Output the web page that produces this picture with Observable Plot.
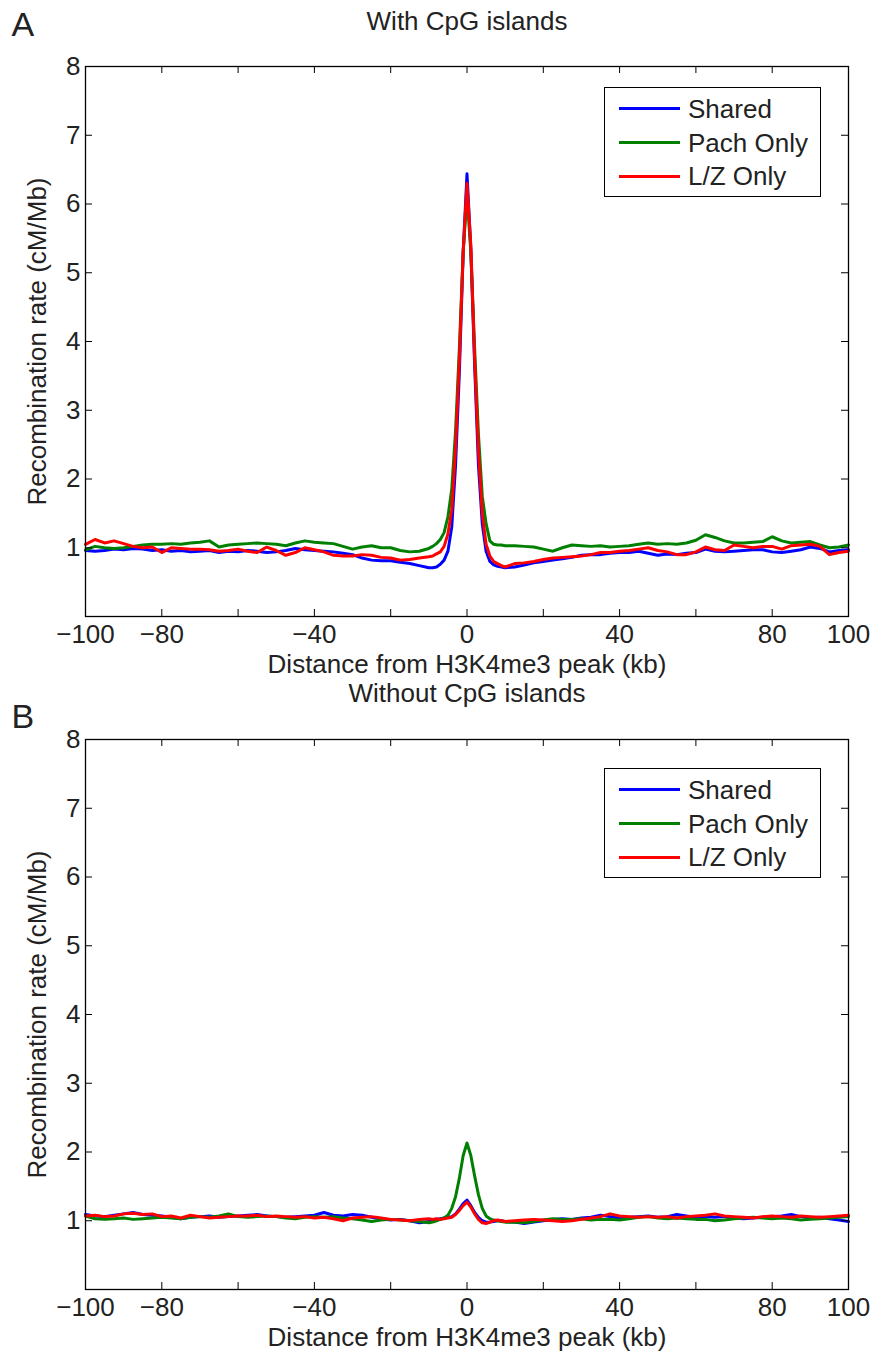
<!DOCTYPE html>
<html>
<head>
<meta charset="utf-8">
<script src="https://cdn.jsdelivr.net/npm/d3@7"></script>
<script src="https://cdn.jsdelivr.net/npm/@observablehq/plot@0.6"></script>
<style>
  body { margin: 0; background: #fff; font-family: "Liberation Sans", Arial, Helvetica, sans-serif; }
  .panel { position: relative; width: 878px; }
  .panel svg { overflow: visible; display: block; }
  .legend { position: absolute; left: 604px; width: 217px; height: 110px; box-sizing: border-box;
            border: 1.5px solid #000; background: #fff; padding-top: 4px; }
  .row { height: 33.7px; display: flex; align-items: center; }
  .sw { width: 61px; height: 3.2px; margin-left: 14px; margin-right: 8px; }
  .lab { font-size: 26px; color: #222; line-height: 1; }
</style>
</head>
<body>
<div id="root"></div>
<script>
// ---------- data ----------
const seriesNames = ["Shared", "Pach Only", "L/Z Only"];
const seriesColors = ["#0000ff", "#008000", "#ff0000"];

// distance from H3K4me3 peak (kb)
const distance = [].concat(
  d3.range(-100, -9.9, 2.5),
  d3.range(-9, 9.1, 1),
  d3.range(10, 100.1, 2.5)
);

// Panel A: with CpG islands
const sharedA = [
  0.96,0.95,0.96,0.98,0.97,0.99,0.98,0.96,0.97,0.95,0.96,0.94,0.95,0.96,0.93,0.95,0.94,0.96,0.95,0.93,
  0.94,0.96,0.99,0.97,0.96,0.95,0.94,0.92,0.90,0.85,0.82,0.81,0.81,0.79,0.77,0.74,0.71,
  0.71,0.72,0.76,0.82,0.95,1.30,2.20,3.55,5.30,6.44,5.35,3.65,2.20,1.35,0.95,0.80,0.75,0.73,0.72,
  0.71,0.72,0.75,0.78,0.80,0.82,0.84,0.86,0.89,0.90,0.90,0.92,0.93,0.93,0.95,0.92,0.89,0.91,0.90,
  0.92,0.93,0.98,0.95,0.94,0.95,0.96,0.97,0.97,0.94,0.93,0.95,0.97,1.01,0.99,0.94,0.96,0.97
];
const pachA = [
  0.97,1.02,1.00,0.99,1.00,1.02,1.04,1.05,1.05,1.06,1.05,1.07,1.08,1.10,1.01,1.04,1.05,1.06,1.07,1.06,
  1.05,1.03,1.07,1.10,1.08,1.07,1.06,1.02,0.98,1.01,1.03,1.00,1.00,0.96,0.94,0.95,0.99,
  1.02,1.06,1.12,1.22,1.45,1.85,2.70,3.90,5.30,6.14,5.30,3.90,2.65,1.75,1.35,1.10,1.05,1.04,1.04,
  1.03,1.03,1.02,1.01,0.98,0.95,1.00,1.04,1.03,1.02,1.03,1.01,1.02,1.03,1.05,1.07,1.05,1.06,1.05,
  1.07,1.11,1.19,1.15,1.10,1.07,1.07,1.08,1.09,1.16,1.10,1.07,1.08,1.09,1.04,1.00,1.01,1.04
];
const lzA = [
  1.05,1.12,1.07,1.10,1.06,1.02,1.00,1.01,0.93,1.00,0.99,0.98,0.98,0.97,0.95,0.96,0.98,0.95,0.93,1.01,
  0.96,0.89,0.93,1.00,0.97,0.94,0.89,0.88,0.88,0.90,0.89,0.86,0.85,0.82,0.83,0.85,0.87,
  0.88,0.91,0.94,1.02,1.20,1.55,2.45,3.75,5.30,6.30,5.40,3.75,2.40,1.50,1.05,0.88,0.80,0.77,0.74,
  0.72,0.77,0.78,0.80,0.83,0.85,0.86,0.87,0.88,0.90,0.93,0.93,0.95,0.96,0.98,1.00,0.96,0.94,0.90,
  0.90,0.94,1.01,0.97,0.96,1.04,1.02,1.00,1.02,1.02,0.98,1.03,1.04,1.05,1.02,0.90,0.93,0.95
];

// Panel B: without CpG islands
const sharedB = [
  1.09,1.07,1.06,1.08,1.10,1.12,1.09,1.08,1.07,1.05,1.03,1.05,1.06,1.07,1.05,1.06,1.07,1.08,1.09,1.07,
  1.06,1.05,1.06,1.07,1.08,1.12,1.08,1.07,1.09,1.08,1.05,1.03,1.01,1.02,1.00,0.97,0.99,
  1.01,1.02,1.03,1.04,1.05,1.06,1.10,1.17,1.25,1.30,1.22,1.12,1.05,1.00,0.98,0.98,0.99,1.00,1.00,
  0.99,0.98,0.96,0.98,1.00,1.02,1.03,1.02,1.04,1.05,1.08,1.06,1.04,1.05,1.06,1.07,1.05,1.06,1.09,
  1.07,1.05,1.06,1.05,1.06,1.04,1.03,1.04,1.05,1.06,1.07,1.09,1.06,1.04,1.05,1.03,1.01,0.99
];
const pachB = [
  1.07,1.03,1.02,1.03,1.04,1.02,1.03,1.04,1.05,1.04,1.03,1.05,1.06,1.05,1.07,1.10,1.06,1.05,1.06,1.07,
  1.06,1.04,1.03,1.05,1.06,1.05,1.06,1.04,1.03,1.01,0.99,1.01,1.02,1.01,1.00,0.99,0.97,
  0.98,1.00,1.02,1.04,1.08,1.18,1.35,1.62,1.95,2.13,1.95,1.65,1.38,1.18,1.07,1.03,1.01,1.00,0.99,
  0.98,0.98,0.97,0.99,1.01,1.03,1.02,1.02,1.03,1.01,1.02,1.02,1.01,1.03,1.05,1.06,1.04,1.03,1.04,
  1.03,1.02,1.02,1.00,1.01,1.03,1.04,1.05,1.04,1.03,1.04,1.03,1.01,1.02,1.03,1.04,1.05,1.06
];
const lzB = [
  1.07,1.08,1.06,1.07,1.10,1.11,1.09,1.10,1.06,1.07,1.04,1.08,1.06,1.04,1.05,1.06,1.07,1.07,1.08,1.06,
  1.07,1.06,1.05,1.06,1.04,1.05,1.03,1.00,1.04,1.05,1.06,1.04,1.02,1.01,1.00,1.02,1.03,
  1.02,1.03,1.02,1.03,1.04,1.05,1.09,1.15,1.22,1.27,1.20,1.10,1.02,0.97,0.96,0.98,1.00,1.01,1.00,
  0.99,1.00,1.01,1.02,1.01,1.00,0.99,1.00,1.02,1.04,1.06,1.10,1.07,1.06,1.05,1.06,1.05,1.06,1.04,
  1.06,1.07,1.08,1.10,1.07,1.06,1.05,1.04,1.06,1.07,1.06,1.05,1.07,1.06,1.05,1.06,1.07,1.08
];

// axes
const xTickValues = [-100, -80, -60, -40, -20, 0, 20, 40, 60, 80, 100];
const xTickLabels = [-100, -80, -40, 0, 40, 80, 100];
const yTickValues = [1, 2, 3, 4, 5, 6, 7, 8];
const xAxisLabel = "Distance from H3K4me3 peak (kb)";
const yAxisLabel = "Recombination rate (cM/Mb)";

const panels = [
  { letter: "A", title: "With CpG islands", values: [sharedA, pachA, lzA],
    height: 673, letterDy: -31, titleDy: -37, legendTop: 87 },
  { letter: "B", title: "Without CpG islands", values: [sharedB, pachB, lzB],
    height: 682, letterDy: -12, titleDy: -38, legendTop: 95 }
];

// ---------- drawing ----------
const W = 878, MT = 66, ML = 85, MR = 30, INNER_H = 550;
const innerW = W - ML - MR;
const fmtX = d => d < 0 ? "\u2212" + (-d) : String(d);
const fmtY = d => String(d);
const font = '"Liberation Sans", Arial, Helvetica, sans-serif';
const root = document.getElementById("root");

for (const p of panels) {
  const data = [];
  p.values.forEach((vals, si) => vals.forEach((v, i) => data.push({x: distance[i], v, name: seriesNames[si]})));

  const chart = Plot.plot({
    width: W, height: p.height,
    marginTop: MT, marginBottom: p.height - MT - INNER_H, marginLeft: ML, marginRight: MR,
    style: {fontFamily: font, fontSize: "26px", color: "#222", overflow: "visible"},
    x: {domain: [-100, 100]},
    y: {domain: [0, 8]},
    color: {domain: seriesNames, range: seriesColors},
    marks: [
      Plot.axisX(xTickLabels, {tickSize: 0, tickPadding: 8, tickFormat: fmtX, label: null, fill: "#222"}),
      Plot.axisY(yTickValues, {tickSize: 0, tickPadding: 5, tickFormat: fmtY, label: null, fill: "#222"}),
      Plot.lineY(data, {x: "x", y: "v", z: "name", stroke: "name", strokeWidth: 3, strokeLinejoin: "round"}),
      Plot.tickX(xTickValues, {x: d => d, insetTop: INNER_H - 7, stroke: "#000"}),
      Plot.tickX(xTickValues, {x: d => d, insetBottom: INNER_H - 7, stroke: "#000"}),
      Plot.tickY(yTickValues, {y: d => d, insetRight: innerW - 7, stroke: "#000"}),
      Plot.tickY(yTickValues, {y: d => d, insetLeft: innerW - 7, stroke: "#000"}),
      Plot.frame({stroke: "#000", strokeWidth: 1.3}),
      Plot.text([p.title], {text: d => d, frameAnchor: "top", dy: p.titleDy, textAnchor: "middle", lineAnchor: "bottom", fontSize: 26, fill: "#222"}),
      Plot.text([xAxisLabel], {text: d => d, frameAnchor: "bottom", dy: 56, textAnchor: "middle", lineAnchor: "bottom", fontSize: 26, fill: "#222"}),
      Plot.text([yAxisLabel], {text: d => d, frameAnchor: "left", dx: -48, rotate: -90, textAnchor: "middle", lineAnchor: "middle", fontSize: 26, fill: "#222"}),
      Plot.text([p.letter], {text: d => d, frameAnchor: "top-left", dx: -74, dy: p.letterDy, textAnchor: "start", lineAnchor: "bottom", fontSize: 34, fill: "#222"})
    ]
  });

  const wrap = document.createElement("div");
  wrap.className = "panel";
  wrap.style.height = p.height + "px";
  wrap.appendChild(chart);

  const legend = document.createElement("div");
  legend.className = "legend";
  legend.style.top = p.legendTop + "px";
  seriesNames.forEach((n, i) => {
    const row = document.createElement("div");
    row.className = "row";
    const sw = document.createElement("div");
    sw.className = "sw";
    sw.style.background = seriesColors[i];
    const lab = document.createElement("span");
    lab.className = "lab";
    lab.textContent = n;
    row.appendChild(sw);
    row.appendChild(lab);
    legend.appendChild(row);
  });
  wrap.appendChild(legend);
  root.appendChild(wrap);
}
</script>
</body>
</html>
